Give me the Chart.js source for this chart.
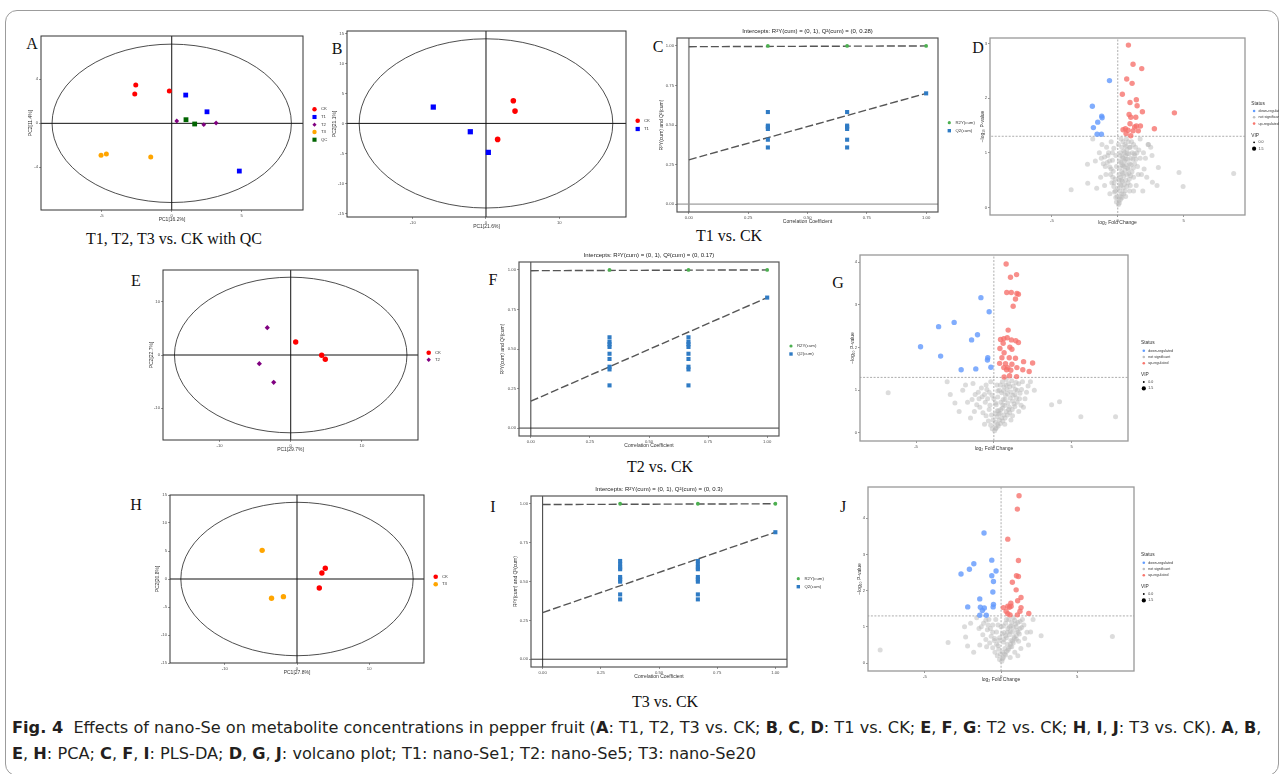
<!DOCTYPE html>
<html lang="en">
<head>
<meta charset="UTF-8">
<title>Fig. 4 nano-Se metabolites</title>
<script src="https://cdn.jsdelivr.net/npm/chart.js"></script>
<style>
  body { margin:0; width:1284px; height:774px; position:relative; overflow:hidden; background:#fff; font-family:"Liberation Sans", Arial, sans-serif; }
  #frame { position:absolute; left:5px; top:10px; width:1272px; height:764px; border:1px solid #9c9c9c; border-radius:12px; }
  canvas { position:absolute; }
  .tag { position:absolute; font-family:"Liberation Serif", "Times New Roman", serif; font-size:16px; color:#111; line-height:1; transform:translate(-50%,-50%); }
  .sub { position:absolute; font-family:"Liberation Serif", "Times New Roman", serif; font-size:16px; color:#111; line-height:1; white-space:nowrap; transform:translate(-50%,-50%); }
  .cap { position:absolute; left:12px; font-family:"Liberation Sans Narrow", "DejaVu Sans Condensed", "Roboto", sans-serif; font-size:16.5px; line-height:1; white-space:nowrap; color:#231f20; transform-origin:0 0; }
</style>
</head>
<body>
<div id="frame"></div>

<div class="tag" style="left:32px;top:44px">A</div>
<div class="tag" style="left:337px;top:49px">B</div>
<div class="tag" style="left:658px;top:47px">C</div>
<div class="tag" style="left:978px;top:48px">D</div>
<div class="tag" style="left:136px;top:281px">E</div>
<div class="tag" style="left:493px;top:280px">F</div>
<div class="tag" style="left:838px;top:283px">G</div>
<div class="tag" style="left:136px;top:505px">H</div>
<div class="tag" style="left:493px;top:507px">I</div>
<div class="tag" style="left:843px;top:507px">J</div>

<div class="sub" style="left:174px;top:239px">T1, T2, T3 vs. CK with QC</div>
<div class="sub" style="left:729px;top:236px">T1 vs. CK</div>
<div class="sub" style="left:660px;top:467px">T2 vs. CK</div>
<div class="sub" style="left:665px;top:702px">T3 vs. CK</div>

<div class="cap" id="cap1" style="top:720px"><b>Fig. 4</b>&nbsp; Effects of nano-Se on metabolite concentrations in pepper fruit (<b>A</b>: T1, T2, T3 vs. CK; <b>B</b>, <b>C</b>, <b>D</b>: T1 vs. CK; <b>E</b>, <b>F</b>, <b>G</b>: T2 vs. CK; <b>H</b>, <b>I</b>, <b>J</b>: T3 vs. CK). <b>A</b>, <b>B</b>,</div>
<div class="cap" id="cap2" style="top:746px"><b>E</b>, <b>H</b>: PCA; <b>C</b>, <b>F</b>, <b>I</b>: PLS-DA; <b>D</b>, <b>G</b>, <b>J</b>: volcano plot; T1: nano-Se1; T2: nano-Se5; T3: nano-Se20</div>

<script>
// ---------- values ----------
const groups = ['CK', 'T1', 'T2', 'T3', 'QC'];
const groupColors = ['#ff0000', '#0000ff', '#800080', '#ffa500', '#006400'];
const statusLabels = ['down-regulated', 'not significant', 'up-regulated'];
const vipLabels = ['0.0', '1.5'];
const plsLabels = ['R2Y(cum)', 'Q2(cum)'];

// PCA scores [PC1, PC2]
const aCK = [[-2.57, 3.48], [-2.64, 2.66], [-0.17, 2.94]];
const aT1 = [[1.0, 2.57], [2.52, 1.05], [4.83, -4.34]];
const aT2 = [[0.36, 0.21], [2.29, -0.12], [3.17, 0.03]];
const aT3 = [[-5.05, -2.91], [-4.67, -2.79], [-1.5, -3.06]];
const aQC = [[1.02, 0.33], [1.64, -0.06]];
const bCK = [[3.73, 3.77], [3.96, 2.05], [1.59, -2.67]];
const bT1 = [[-7.19, 2.72], [-2.14, -1.39], [0.32, -4.83]];
const eCK = [[0.70, 2.44], [4.35, -0.06], [4.86, -0.81]];
const eT2 = [[-3.29, 5.12], [-4.41, -1.63], [-2.39, -5.12]];
const hCK = [[3.92, 1.91], [3.45, 1.07], [3.09, -1.61]];
const hT3 = [[-4.83, 5.12], [-3.53, -3.45], [-1.88, -3.15]];

// PLS-DA permutation tests [correlation coefficient, value]
const cR2 = [[0.333, 1], [0.667, 1], [1, 1]];
const cQ2 = [[0.333, 0.582], [0.333, 0.496], [0.333, 0.487], [0.333, 0.475], [0.333, 0.407], [0.333, 0.358],
             [0.667, 0.582], [0.667, 0.496], [0.667, 0.487], [0.667, 0.475], [0.667, 0.407], [0.667, 0.358], [1, 0.70]];
const cR2Line = [[0, 0.995], [1, 1]];
const cQ2Line = [[0, 0.28], [1, 0.70]];
const fR2 = [[0.333, 1], [0.667, 1], [1, 1]];
const fQ2 = [[0.333, 0.574], [0.333, 0.546], [0.333, 0.53], [0.333, 0.513], [0.333, 0.47], [0.333, 0.437], [0.333, 0.388], [0.333, 0.371], [0.333, 0.27],
             [0.667, 0.574], [0.667, 0.546], [0.667, 0.53], [0.667, 0.513], [0.667, 0.47], [0.667, 0.437], [0.667, 0.388], [0.667, 0.371], [0.667, 0.27], [1, 0.825]];
const fR2Line = [[0, 0.995], [1, 1]];
const fQ2Line = [[0, 0.17], [1, 0.825]];
const iR2 = [[0.333, 1], [0.667, 1], [1, 1]];
const iQ2 = [[0.333, 0.632], [0.333, 0.61], [0.333, 0.59], [0.333, 0.579], [0.333, 0.529], [0.333, 0.514], [0.333, 0.499], [0.333, 0.417], [0.333, 0.385],
             [0.667, 0.632], [0.667, 0.61], [0.667, 0.59], [0.667, 0.579], [0.667, 0.529], [0.667, 0.514], [0.667, 0.499], [0.667, 0.417], [0.667, 0.385], [1, 0.817]];
const iR2Line = [[0, 0.995], [1, 1]];
const iQ2Line = [[0, 0.30], [1, 0.817]];

// volcano plots [log2 FC, -log10 P]
const dUp = [[0.81, 2.97], [1.16, 2.62], [1.82, 2.54], [0.68, 2.35], [1.09, 2.27], [0.35, 2.07], [1.41, 1.97], [0.93, 1.92], [1.47, 1.86],
             [1.87, 1.75], [4.3, 1.73], [0.86, 1.70], [0.99, 1.65], [1.37, 1.65], [0.93, 1.53], [1.72, 1.49], [1.41, 1.49], [2.78, 1.44],
             [0.58, 1.44], [0.78, 1.41], [1.56, 1.40], [1.16, 1.40], [0.63, 1.35], [0.99, 1.31], [0.40, 1.42], [1.28, 1.47]];
const dDown = [[-0.63, 2.32], [-1.93, 1.85], [-1.22, 1.67], [-1.19, 1.64], [-1.52, 1.56], [-1.85, 1.46], [-1.57, 1.34], [-1.24, 1.34]];
const dNs = [[0.05, 0.05], [0.1, 0.12], [-0.1, 0.1], [0.2, 0.2], [-0.15, 0.18], [0.3, 0.25], [0.15, 0.3], [-0.25, 0.28], [0.4, 0.35], [0.25, 0.4],
             [-0.3, 0.38], [0.5, 0.42], [0.35, 0.48], [-0.45, 0.45], [0.6, 0.5], [0.2, 0.55], [-0.2, 0.52], [0.45, 0.58], [0.7, 0.6], [-0.55, 0.6],
             [0.3, 0.65], [0.55, 0.68], [-0.35, 0.66], [0.8, 0.7], [0.15, 0.72], [0.4, 0.76], [-0.6, 0.74], [0.65, 0.78], [0.9, 0.8], [0.25, 0.82],
             [-0.8, 0.82], [0.5, 0.85], [0.75, 0.88], [-0.4, 0.86], [1.0, 0.9], [0.35, 0.92], [0.6, 0.95], [-1.0, 0.92], [0.85, 0.98], [0.2, 1.0],
             [1.1, 1.0], [0.45, 1.03], [-0.7, 1.0], [0.7, 1.06], [0.3, 1.1], [0.95, 1.1], [-0.3, 1.08], [0.55, 1.15], [1.2, 1.15], [0.4, 1.2],
             [0.8, 1.2], [-1.2, 1.15], [0.25, 1.25], [0.65, 1.25], [1.3, 0.95], [1.5, 0.75], [1.2, 0.55], [-1.3, 0.55], [-1.0, 0.4], [1.6, 1.05],
             [1.8, 0.6], [-1.6, 0.35], [2.3, 1.15], [2.5, 1.1], [2.1, 0.9], [2.6, 0.95], [2.0, 0.7], [-2.3, 0.79], [-2.28, 0.44], [-3.54, 0.32],
             [4.65, 0.64], [4.96, 0.38], [8.8, 0.62], [3.08, 0.73], [2.63, 0.46], [2.98, 0.40], [2.33, 1.15], [-1.7, 0.85], [-1.4, 1.0], [-1.9, 1.25],
             [-0.9, 0.6], [1.4, 0.4], [0.9, 0.3], [0.6, 0.2], [-0.6, 0.25], [1.7, 1.25], [-0.5, 1.2], [0.1, 0.6], [0.0, 0.35], [1.9, 0.3],
             [0.12, 0.08], [0.22, 0.15], [0.32, 0.18], [0.45, 0.25], [0.55, 0.3], [0.68, 0.38], [0.78, 0.45], [0.88, 0.52], [0.98, 0.58], [1.08, 0.65],
             [1.18, 0.72], [1.28, 0.8], [1.38, 0.88], [1.45, 1.0], [1.35, 1.1], [1.05, 1.2], [0.9, 1.1], [0.72, 0.98], [0.62, 0.88], [0.48, 0.75],
             [0.38, 0.62], [0.28, 0.5], [0.18, 0.42], [0.08, 0.5], [0.12, 0.85], [0.18, 0.95], [0.32, 0.78], [0.42, 0.9], [0.52, 1.0], [0.62, 1.12],
             [0.75, 0.72], [0.85, 0.62], [1.0, 0.78], [1.15, 0.88], [1.25, 0.98], [-0.05, 0.2], [-0.18, 0.3], [-0.28, 0.45], [-0.38, 0.55], [-0.5, 0.7],
             [-0.62, 0.85], [-0.75, 0.95], [-0.85, 1.1], [-0.95, 0.75], [-1.1, 0.8], [-1.25, 0.9], [-0.4, 1.0], [-0.15, 0.95], [-0.1, 0.75], [0.05, 1.15],
             [1.55, 0.6], [1.7, 0.9], [1.95, 1.0], [2.2, 0.55], [0.95, 0.4], [1.2, 0.3]];
const gUp = [[0.79, 3.96], [1.46, 3.71], [1.07, 3.65], [0.83, 3.29], [1.12, 3.29], [1.48, 3.27], [1.58, 3.25], [1.39, 3.14], [1.24, 2.97],
             [0.92, 2.41], [0.43, 2.19], [0.64, 2.21], [0.86, 2.23], [1.13, 2.18], [1.41, 2.16], [1.58, 2.12], [0.6, 2.10], [1.03, 2.01],
             [0.39, 1.98], [1.16, 1.96], [0.66, 1.88], [1.39, 1.75], [0.52, 1.76], [0.99, 1.76], [1.91, 1.67], [2.49, 1.64], [0.37, 1.63],
             [0.75, 1.62], [1.16, 1.61], [0.64, 1.53], [0.9, 1.53], [1.48, 1.53], [1.09, 1.47], [1.86, 1.48], [2.27, 1.44], [0.66, 1.31],
             [1.01, 1.34], [1.46, 1.32], [0.82, 1.48]];
const gDown = [[-0.83, 3.17], [-0.3, 2.84], [-2.55, 2.59], [-3.55, 2.49], [-1.05, 2.30], [-1.43, 2.18], [-4.71, 2.02], [-3.42, 1.80],
               [-0.39, 1.76], [-0.41, 1.71], [-0.19, 1.54], [-1.16, 1.50], [-2.1, 1.48]];
const gNs = [[0.05, 0.05], [-0.1, 0.1], [0.15, 0.12], [0.25, 0.2], [-0.2, 0.18], [0.1, 0.25], [0.35, 0.3], [-0.35, 0.28], [0.5, 0.35], [0.2, 0.38],
             [-0.5, 0.4], [0.65, 0.42], [0.4, 0.46], [-0.7, 0.47], [0.8, 0.5], [0.3, 0.52], [-0.3, 0.55], [0.55, 0.58], [1.0, 0.6], [-0.9, 0.6],
             [0.7, 0.64], [0.15, 0.66], [-1.1, 0.66], [0.9, 0.7], [0.45, 0.72], [-0.55, 0.72], [1.2, 0.75], [0.6, 0.78], [-1.4, 0.78], [1.05, 0.82],
             [0.25, 0.84], [-0.75, 0.85], [0.75, 0.88], [1.35, 0.9], [-1.69, 0.72], [0.5, 0.94], [1.1, 0.96], [-1.0, 0.95], [0.35, 1.0], [0.85, 1.02],
             [1.5, 1.0], [-0.45, 1.02], [0.65, 1.08], [-1.34, 1.16], [1.25, 1.1], [0.2, 1.12], [-1.82, 1.12], [0.95, 1.15], [-0.8, 1.05], [0.55, 1.2],
             [1.6, 1.15], [-0.2, 1.2], [0.8, 1.25], [1.84, 1.2], [1.68, 0.93], [1.3, 0.68], [-2.23, 0.5], [-2.8, 0.9], [-6.79, 0.94], [3.71, 0.66],
             [4.22, 0.73], [5.59, 0.38], [7.82, 0.38], [2.2, 1.1], [2.0, 0.8], [1.6, 0.5], [1.1, 0.3], [-1.5, 0.35], [-2.0, 1.0], [0.0, 0.8],
             [0.1, 0.45], [2.6, 1.0], [-0.6, 0.2], [0.7, 0.2], [-3.0, 1.2], [1.9, 0.6],
             [0.12, 0.1], [0.28, 0.16], [0.42, 0.22], [0.58, 0.28], [0.72, 0.35], [0.88, 0.42], [1.02, 0.48], [1.18, 0.55], [1.35, 0.62], [1.5, 0.72],
             [1.65, 0.8], [1.78, 1.02], [1.42, 1.18], [1.15, 1.22], [1.02, 1.08], [0.88, 0.92], [0.72, 0.78], [0.58, 0.66], [0.45, 0.55], [0.32, 0.44],
             [0.22, 0.52], [0.12, 0.7], [0.25, 0.98], [0.42, 1.12], [0.62, 0.98], [0.78, 1.12], [1.22, 0.88], [1.38, 1.02], [1.45, 0.82], [0.95, 0.55],
             [-0.05, 0.3], [-0.15, 0.42], [-0.25, 0.65], [-0.4, 0.8], [-0.6, 0.9], [-0.3, 0.95], [-0.12, 0.88], [-0.5, 1.12], [-1.2, 0.9], [-0.95, 0.8],
             [2.1, 0.95], [2.35, 1.2], [1.75, 0.65], [1.2, 0.4], [-1.25, 0.5], [-2.5, 0.7]];
const jUp = [[1.18, 4.62], [1.07, 4.25], [0.44, 3.42], [1.14, 2.83], [1.01, 2.41], [1.14, 2.39], [0.74, 2.23], [0.99, 2.02], [1.31, 1.81],
             [1.09, 1.72], [0.64, 1.65], [0.15, 1.53], [0.44, 1.57], [0.55, 1.54], [0.66, 1.57], [1.31, 1.53], [1.24, 1.43], [0.44, 1.36],
             [0.59, 1.33], [1.82, 1.37], [1.07, 1.33], [0.33, 1.43]];
const jDown = [[-1.12, 3.59], [-0.61, 2.84], [-1.79, 2.74], [-2.08, 2.59], [-0.33, 2.54], [-2.63, 2.46], [-0.61, 2.41], [-0.5, 2.25],
               [-0.54, 1.96], [-1.4, 1.77], [-0.5, 1.62], [-0.52, 1.55], [-2.19, 1.55], [-1.36, 1.54], [-1.1, 1.52], [-1.23, 1.45],
               [-1.4, 1.32], [-0.97, 1.32]];
const jNs = [[0.05, 0.05], [-0.1, 0.1], [0.15, 0.15], [-0.25, 0.2], [0.3, 0.22], [0.1, 0.3], [-0.4, 0.3], [0.45, 0.35], [0.25, 0.4], [-0.55, 0.42],
             [0.6, 0.45], [-0.2, 0.48], [0.4, 0.52], [0.8, 0.55], [-0.75, 0.55], [0.15, 0.58], [0.65, 0.62], [-0.45, 0.62], [1.0, 0.66], [-1.0, 0.65],
             [0.35, 0.7], [0.85, 0.72], [-0.65, 0.74], [0.55, 0.78], [1.2, 0.8], [-1.2, 0.78], [0.2, 0.84], [0.75, 0.86], [-0.3, 0.86], [1.05, 0.9],
             [-0.9, 0.92], [0.45, 0.95], [1.35, 0.98], [-1.45, 0.95], [0.65, 1.02], [-0.55, 1.05], [0.95, 1.08], [0.3, 1.1], [-1.15, 1.1], [1.25, 1.15],
             [0.5, 1.2], [-0.8, 1.2], [0.8, 1.25], [-1.6, 1.25], [1.5, 1.05], [1.7, 0.85], [1.94, 0.86], [2.63, 0.75], [7.31, 0.73], [-2.33, 0.72],
             [-2.2, 0.47], [-3.48, 0.57], [-7.94, 0.36], [-1.8, 0.3], [-2.4, 1.0], [-2.0, 1.1], [1.3, 0.4], [0.9, 0.3], [1.1, 0.2], [-0.1, 0.7],
             [0.0, 1.0], [2.1, 1.2], [1.8, 0.5], [-1.4, 0.5], [0.6, 0.15],
             [0.1, 0.12], [0.22, 0.25], [0.35, 0.32], [0.5, 0.4], [0.62, 0.52], [0.75, 0.6], [0.88, 0.68], [1.0, 0.76], [1.12, 0.85], [1.25, 0.95],
             [1.1, 1.12], [0.9, 1.18], [0.7, 1.12], [0.55, 1.0], [0.42, 0.85], [0.3, 0.75], [0.18, 0.65], [0.08, 0.8], [0.15, 1.02], [0.35, 1.2],
             [0.6, 0.88], [0.8, 0.98], [1.0, 1.0], [1.15, 0.6], [0.7, 0.45], [-0.05, 0.25], [-0.15, 0.38], [-0.3, 0.52], [-0.42, 0.68], [-0.55, 0.85],
             [-0.7, 0.95], [-0.85, 1.05], [-1.0, 1.18], [-0.2, 1.05], [-0.35, 1.2], [-0.15, 0.62], [-1.3, 1.0], [-0.95, 0.45], [1.55, 0.68], [1.4, 1.2]];
const pThreshold = 1.301;   // -log10(0.05)

// ---------- drawing helpers ----------
const FONT = "'Liberation Sans', Arial, sans-serif";
const pts = arr => arr.map(([x, y]) => ({ x, y }));
const dots = (arr, color, style, r, order = 1) => ({
  type: 'scatter', data: pts(arr), order,
  pointStyle: style, pointRadius: r, pointBackgroundColor: color, pointBorderColor: color, pointBorderWidth: 0
});
const line = (arr, color, w, dash, order = 5) => ({
  type: 'line', data: pts(arr), order, borderColor: color, borderWidth: w, borderDash: dash || [],
  pointRadius: 0, fill: false, tension: 0
});

// frame, ellipse, title and legends
const deco = {
  id: 'deco',
  beforeDatasetsDraw(chart, args, o) {
    if (!o.ellipse) return;
    const { ctx, scales: { x, y } } = chart;
    const cx = x.getPixelForValue(0), cy = y.getPixelForValue(0);
    ctx.save();
    ctx.beginPath();
    ctx.ellipse(cx, cy, x.getPixelForValue(o.ellipse[0]) - cx, cy - y.getPixelForValue(o.ellipse[1]), 0, 0, Math.PI * 2);
    ctx.strokeStyle = '#3a3a3a';
    ctx.lineWidth = 0.9;
    ctx.stroke();
    ctx.restore();
  },
  afterDraw(chart, args, o) {
    const { ctx, chartArea: a } = chart;
    const ox = chart.canvas.offsetLeft, oy = chart.canvas.offsetTop;
    ctx.save();
    ctx.strokeStyle = o.frameColor;
    ctx.lineWidth = o.frameWidth;
    ctx.strokeRect(a.left, a.top, a.right - a.left, a.bottom - a.top);
    if (o.title) {
      ctx.fillStyle = '#222';
      ctx.font = `6px ${FONT}`;
      ctx.textAlign = 'center';
      ctx.textBaseline = 'middle';
      ctx.fillText(o.title, (a.left + a.right) / 2, a.top - 6.4);
    }
    ctx.textAlign = 'left';
    ctx.textBaseline = 'middle';
    (o.texts || []).forEach(t => {
      ctx.font = `${t.size || 4.3}px ${FONT}`;
      ctx.fillStyle = '#333';
      ctx.fillText(t.text, t.x - ox, t.y - oy);
    });
    (o.marks || []).forEach(m => {
      ctx.fillStyle = m.color;
      Chart.helpers.drawPoint(ctx, { pointStyle: m.style, radius: m.r, rotation: 0, borderWidth: 0 }, m.x - ox, m.y - oy);
    });
    ctx.restore();
  }
};

// a plain legend: markers at mx, labels at tx, rows at ys
function keyRows(mx, tx, ys, labels, colors, styles, radii) {
  return {
    marks: ys.map((y, i) => ({ x: mx, y, color: colors[i], style: styles[i], r: radii[i] })),
    texts: ys.map((y, i) => ({ x: tx, y, text: labels[i] }))
  };
}

// volcano legend block starting at (x, y)
function volcanoKey(x, y) {
  const cols = ['#619cff', '#bebebe', '#f8766d'];
  const k = {
    marks: [], texts: [{ x, y, text: 'Status', size: 4.8 }, { x, y: y + 32, text: 'VIP', size: 4.8 }]
  };
  statusLabels.forEach((s, i) => {
    k.marks.push({ x: x + 2.8, y: y + 7.7 + i * 6.3, color: cols[i], style: 'circle', r: 1.3 });
    k.texts.push({ x: x + 7.2, y: y + 7.7 + i * 6.3, text: s, size: 3.6 });
  });
  vipLabels.forEach((s, i) => {
    k.marks.push({ x: x + 2.8, y: y + 39 + i * 6.4, color: '#000', style: 'circle', r: i ? 2.1 : 0.9 });
    k.texts.push({ x: x + 7.2, y: y + 39 + i * 6.4, text: s, size: 3.6 });
  });
  return k;
}

function makeChart(b, xs, ys, datasets, d) {
  const cv = document.createElement('canvas');
  const W = b.padL + b.r - b.l + b.padR, H = b.padT + b.b - b.t + b.padB;
  cv.width = W; cv.height = H;
  cv.style.left = (b.l - b.padL) + 'px';
  cv.style.top = (b.t - b.padT) + 'px';
  cv.style.width = W + 'px';
  cv.style.height = H + 'px';
  document.body.appendChild(cv);
  const axis = (s, horiz) => ({
    type: 'linear', min: s.min, max: s.max,
    ticks: {
      stepSize: s.step, includeBounds: false, autoSkip: false, maxRotation: 0, padding: 1,
      font: { size: 4.2, family: FONT }, color: '#4d4d4d',
      callback: v => s.dec ? v.toFixed(s.dec) : String(v)
    },
    grid: { drawOnChartArea: false, drawTicks: true, tickLength: 2, color: '#555', lineWidth: 0.6 },
    border: { display: false },
    title: { display: true, text: s.title, padding: 0, font: { size: 5, family: FONT }, color: '#333' },
    afterFit: sc => { if (horiz) sc.height = b.padB; else sc.width = b.padL; }
  });
  return new Chart(cv, {
    type: 'scatter',
    data: { datasets },
    options: {
      responsive: false, animation: false, devicePixelRatio: 1,
      layout: { padding: { left: 0, top: b.padT, right: b.padR, bottom: 0 } },
      plugins: { legend: { display: false }, tooltip: { enabled: false }, deco: d },
      scales: { x: axis(xs, true), y: axis(ys, false) }
    },
    plugins: [deco]
  });
}

const cross = [line([[-40, 0], [40, 0]], '#111', 1), line([[0, -40], [0, 40]], '#111', 1)];
const UP = 'rgba(246,112,106,0.78)', DOWN = 'rgba(97,152,252,0.8)', NS = 'rgba(185,185,185,0.5)';
const GREEN = '#4cb050', QBLUE = '#2f7bc4';

// ---------- A: PCA, all groups with QC ----------
makeChart({ l: 41, t: 36, r: 303, b: 210, padL: 13, padT: 4, padR: 45, padB: 13 },
  { min: -9.34, max: 9.38, step: 5, title: 'PC1[16.2%]' },
  { min: -7.88, max: 7.94, step: 4, title: 'PC2[11.4%]' },
  [dots(aCK, groupColors[0], 'circle', 2.5), dots(aT1, groupColors[1], 'rect', 3.4), dots(aT2, groupColors[2], 'rectRot', 2.4),
   dots(aT3, groupColors[3], 'circle', 2.5), dots(aQC, groupColors[4], 'rect', 3.4), ...cross],
  { frameColor: '#333', frameWidth: 1, ellipse: [8.55, 7.2],
    ...keyRows(314.5, 321, [109.3, 117, 124.7, 132, 139.7], groups, groupColors, ['circle', 'rect', 'rectRot', 'circle', 'rect'], [2.2, 2.9, 2.1, 2.2, 2.9]) });

// ---------- B: PCA T1 vs CK ----------
makeChart({ l: 347, t: 31, r: 626, b: 217, padL: 15, padT: 4, padR: 30, padB: 13 },
  { min: -18.96, max: 19.1, step: 10, title: 'PC1[21.6%]' },
  { min: -15.6, max: 15.4, step: 5, title: 'PC2[21.1%]' },
  [dots(bCK, groupColors[0], 'circle', 2.8), dots(bT1, groupColors[1], 'rect', 3.7), ...cross],
  { frameColor: '#333', frameWidth: 1, ellipse: [17.3, 14.1],
    ...keyRows(637.7, 644, [120.7, 129], groups.slice(0, 2), groupColors, ['circle', 'rect'], [2.3, 3]) });

// ---------- C: PLS-DA permutation T1 vs CK ----------
makeChart({ l: 677, t: 38, r: 938, b: 212, padL: 18, padT: 14, padR: 60, padB: 13 },
  { min: -0.05, max: 1.05, step: 0.25, dec: 2, title: 'Correlation Coefficient' },
  { min: -0.05, max: 1.05, step: 0.25, dec: 2, title: 'R²Y(cum) and Q²(cum)' },
  [dots(cR2, GREEN, 'circle', 1.9), dots(cQ2, QBLUE, 'rect', 2.9),
   line(cR2Line, '#555', 1.4, [8, 3], 3), line(cQ2Line, '#555', 1.4, [8, 3], 3),
   line([[0, -1], [0, 2]], '#9a9a9a', 1.8), line([[-1, 0], [2, 0]], '#666', 0.8)],
  { frameColor: '#555', frameWidth: 1.2, title: 'Intercepts: R²Y(cum) = (0, 1), Q²(cum) = (0, 0.28)',
    ...keyRows(949.3, 955.5, [122.7, 130.7], plsLabels, [GREEN, QBLUE], ['circle', 'rect'], [1.6, 2.4]) });

// ---------- D: volcano T1 vs CK ----------
makeChart({ l: 990, t: 38, r: 1245, b: 215, padL: 10, padT: 4, padR: 34, padB: 11 },
  { min: -9.7, max: 9.66, step: 5, title: 'log₂ Fold Change' },
  { min: -0.14, max: 3.1, step: 1, title: '−log₁₀ P-value' },
  [dots(dUp, UP, 'circle', 2.7, 1), dots(dDown, DOWN, 'circle', 2.7, 1), dots(dNs, NS, 'circle', 2.5, 2),
   line([[0, -1], [0, 6]], '#8a8a8a', 0.7, [2, 1.5]), line([[-12, pThreshold], [12, pThreshold]], '#8a8a8a', 0.7, [2, 1.5])],
  { frameColor: '#999', frameWidth: 1.3, ...volcanoKey(1251.3, 103.3) });

// ---------- E: PCA T2 vs CK ----------
makeChart({ l: 163, t: 270, r: 418, b: 440, padL: 14, padT: 4, padR: 30, padB: 13 },
  { min: -17.94, max: 17.88, step: 10, title: 'PC1[29.7%]' },
  { min: -15.95, max: 15.95, step: 10, title: 'PC2[22.7%]' },
  [dots(eCK, groupColors[0], 'circle', 2.7), dots(eT2, groupColors[2], 'rectRot', 2.6), ...cross],
  { frameColor: '#333', frameWidth: 1, ellipse: [16.33, 14.6],
    ...keyRows(428.7, 435, [352.7, 359.7], [groups[0], groups[2]], [groupColors[0], groupColors[2]], ['circle', 'rectRot'], [2.3, 2.2]) });

// ---------- F: PLS-DA permutation T2 vs CK ----------
makeChart({ l: 519, t: 262, r: 779, b: 436, padL: 19, padT: 14, padR: 60, padB: 13 },
  { min: -0.05, max: 1.05, step: 0.25, dec: 2, title: 'Correlation Coefficient' },
  { min: -0.05, max: 1.05, step: 0.25, dec: 2, title: 'R²Y(cum) and Q²(cum)' },
  [dots(fR2, GREEN, 'circle', 1.9), dots(fQ2, QBLUE, 'rect', 2.9),
   line(fR2Line, '#555', 1.4, [8, 3], 3), line(fQ2Line, '#555', 1.4, [8, 3], 3),
   line([[0, -1], [0, 2]], '#222', 0.9), line([[-1, 0], [2, 0]], '#222', 0.9)],
  { frameColor: '#555', frameWidth: 1.2, title: 'Intercepts: R²Y(cum) = (0, 1), Q²(cum) = (0, 0.17)',
    ...keyRows(791, 797, [346, 354], plsLabels, [GREEN, QBLUE], ['circle', 'rect'], [1.6, 2.4]) });

// ---------- G: volcano T2 vs CK ----------
makeChart({ l: 860, t: 255, r: 1128, b: 441, padL: 10, padT: 4, padR: 70, padB: 11 },
  { min: -8.6, max: 8.62, step: 5, title: 'log₂ Fold Change' },
  { min: -0.19, max: 4.17, step: 1, title: '−log₁₀ P-value' },
  [dots(gUp, UP, 'circle', 2.7, 1), dots(gDown, DOWN, 'circle', 2.7, 1), dots(gNs, NS, 'circle', 2.5, 2),
   line([[0, -1], [0, 6]], '#8a8a8a', 0.7, [2, 1.5]), line([[-12, pThreshold], [12, pThreshold]], '#8a8a8a', 0.7, [2, 1.5])],
  { frameColor: '#999', frameWidth: 1.3, ...volcanoKey(1141, 343) });

// ---------- H: PCA T3 vs CK ----------
makeChart({ l: 170, t: 495, r: 424, b: 663, padL: 15, padT: 4, padR: 30, padB: 13 },
  { min: -17.6, max: 17.6, step: 10, title: 'PC1[27.8%]' },
  { min: -15, max: 15, step: 5, title: 'PC2[20.8%]' },
  [dots(hCK, groupColors[0], 'circle', 2.7), dots(hT3, groupColors[3], 'circle', 2.7), ...cross],
  { frameColor: '#333', frameWidth: 1, ellipse: [16.1, 13.7],
    ...keyRows(435.7, 442, [576.7, 584.3], [groups[0], groups[3]], [groupColors[0], groupColors[3]], ['circle', 'circle'], [2.3, 2.3]) });

// ---------- I: PLS-DA permutation T3 vs CK ----------
makeChart({ l: 531, t: 496, r: 787, b: 667, padL: 18, padT: 14, padR: 60, padB: 13 },
  { min: -0.05, max: 1.05, step: 0.25, dec: 2, title: 'Correlation Coefficient' },
  { min: -0.05, max: 1.05, step: 0.25, dec: 2, title: 'R²Y(cum) and Q²(cum)' },
  [dots(iR2, GREEN, 'circle', 1.9), dots(iQ2, QBLUE, 'rect', 2.9),
   line(iR2Line, '#555', 1.4, [8, 3], 3), line(iQ2Line, '#555', 1.4, [8, 3], 3),
   line([[0, -1], [0, 2]], '#222', 0.9), line([[-1, 0], [2, 0]], '#222', 0.9)],
  { frameColor: '#555', frameWidth: 1.2, title: 'Intercepts: R²Y(cum) = (0, 1), Q²(cum) = (0, 0.3)',
    ...keyRows(798.3, 804.5, [578.7, 586.7], plsLabels, [GREEN, QBLUE], ['circle', 'rect'], [1.6, 2.4]) });

// ---------- J: volcano T3 vs CK ----------
makeChart({ l: 868, t: 487, r: 1134, b: 671, padL: 11, padT: 4, padR: 70, padB: 12 },
  { min: -8.74, max: 8.73, step: 5, title: 'log₂ Fold Change' },
  { min: -0.22, max: 4.86, step: 1, title: '−log₁₀ P-value' },
  [dots(jUp, UP, 'circle', 2.7, 1), dots(jDown, DOWN, 'circle', 2.7, 1), dots(jNs, NS, 'circle', 2.5, 2),
   line([[0, -1], [0, 6]], '#8a8a8a', 0.7, [2, 1.5]), line([[-12, pThreshold], [12, pThreshold]], '#8a8a8a', 0.7, [2, 1.5])],
  { frameColor: '#999', frameWidth: 1.3, ...volcanoKey(1141, 555) });

// squeeze the caption to the printed line width
const cap1 = document.getElementById('cap1'), cap2 = document.getElementById('cap2');
const k = 1250 / cap1.scrollWidth;
cap1.style.transform = cap2.style.transform = `scaleX(${k})`;
</script>
</body>
</html>
